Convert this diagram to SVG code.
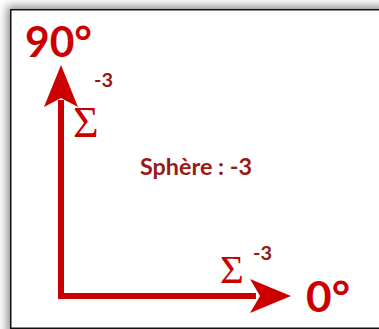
<svg xmlns="http://www.w3.org/2000/svg" width="379" height="329" viewBox="0 0 379 329">
  <defs>
    <filter id="shadow" x="-20%" y="-20%" width="140%" height="140%">
      <feGaussianBlur stdDeviation="5"/>
    </filter>
    <style>
      .axis { stroke: #cc0000; stroke-width: 6; fill: none; stroke-linejoin: miter; stroke-linecap: butt; }
      .head { fill: #cc0000; }
      .deg { font-family: Lato, "Liberation Sans", sans-serif; font-weight: bold; fill: #cc0000; font-size: 42px; }
      .sigma { font-family: "Liberation Serif", serif; fill: #cc0000; }
      .exp { font-family: Lato, "Liberation Sans", sans-serif; font-weight: bold; fill: #8f1a14; font-size: 18.5px; }
      .label { font-family: Lato, "Liberation Sans", sans-serif; font-weight: bold; fill: #991b16; font-size: 22px; }
    </style>
  </defs>
  <rect x="0" y="0" width="379" height="329" fill="#ffffff"/>
  <g id="frame">
    <rect x="7" y="6" width="400" height="340" fill="#000" opacity="0.45" filter="url(#shadow)"/>
    <rect x="10.75" y="9.75" width="400" height="318.5" fill="#ffffff" stroke="#111" stroke-width="1.5"/>
  </g>
  <g id="connectors">
    <polyline class="axis" points="61,100 61,296 256,296"/>
    <polygon class="head" points="61,65 78,107 61,98 44,107"/>
    <polygon class="head" points="291,296 250,279 260,296 250,313"/>
  </g>
  <g id="label-90">
    <text class="deg" x="25" y="57" textLength="67" lengthAdjust="spacingAndGlyphs">90°</text>
  </g>
  <g id="label-0">
    <text class="deg" x="306" y="312" textLength="44" lengthAdjust="spacingAndGlyphs">0°</text>
  </g>
  <g id="sigma-vertical">
    <text class="sigma" x="73" y="137" font-size="44">Σ</text>
    <text class="exp" x="94" y="87" textLength="19" lengthAdjust="spacingAndGlyphs">-3</text>
  </g>
  <g id="sigma-horizontal">
    <text class="sigma" x="220" y="283" font-size="41">Σ</text>
    <text class="exp" x="253" y="260" textLength="19" lengthAdjust="spacingAndGlyphs">-3</text>
  </g>
  <g id="sphere">
    <text class="label" x="140" y="175" textLength="112" lengthAdjust="spacingAndGlyphs">Sphère : -3</text>
  </g>
</svg>
